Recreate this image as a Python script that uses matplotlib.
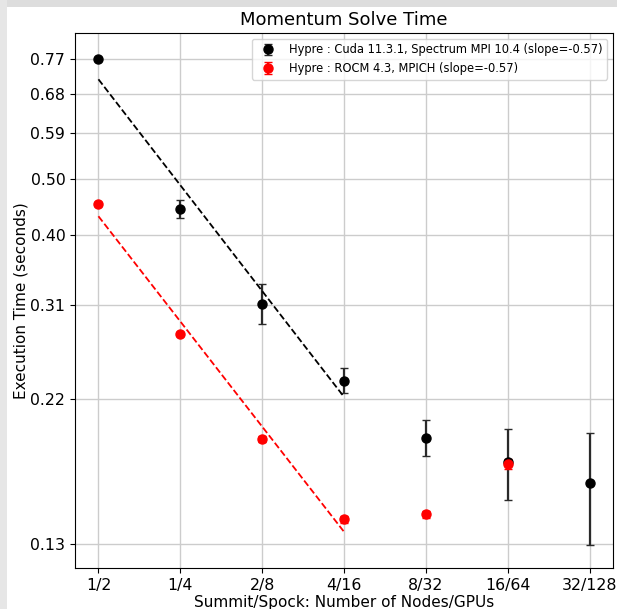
import numpy as np
import matplotlib.pyplot as plt
from matplotlib.patches import Rectangle

# Data
gpus = np.array([2, 4, 8, 16, 32, 64, 128])
tick_labels = ['1/2', '1/4', '2/8', '4/16', '8/32', '16/64', '32/128']

cuda_time = np.array([0.770, 0.4453, 0.315, 0.2379, 0.1931, 0.1765, 0.1636])
cuda_err = np.array([0.0025, 0.0146, 0.023, 0.011, 0.0125, 0.023, 0.033])

rocm_gpus = np.array([2, 4, 8, 16, 32, 64])
rocm_time = np.array([0.454, 0.2819, 0.1922, 0.1432, 0.1458, 0.1753])
rocm_err = np.array([0.003, 0.002, 0.002, 0.002, 0.002, 0.003])

n_fit = 4  # fit over the first 4 points
yticks = np.linspace(0.1307, 0.7705, 8)

fig = plt.figure(figsize=(6.17, 6.09), dpi=100, facecolor='white')
# grey screenshot border on top and left
fig.patches.append(Rectangle((0, 1 - 7/609), 1, 7/609, transform=fig.transFigure,
                             facecolor='#dddddd', edgecolor='none'))
fig.patches.append(Rectangle((0, 0), 7/617, 1, transform=fig.transFigure,
                             facecolor='#e6e6e6', edgecolor='none'))
ax = fig.add_axes([75/617, 41/609, (613-75)/617, (568-33)/609])

ax.errorbar(gpus, cuda_time, yerr=cuda_err, fmt='o', color='black', ecolor='#2a2a2a',
            markersize=6.5, capsize=3, elinewidth=1.6,
            label='Hypre : Cuda 11.3.1, Spectrum MPI 10.4 (slope=-0.57)')
ax.errorbar(rocm_gpus, rocm_time, yerr=rocm_err, fmt='o', color='red', ecolor='red',
            markersize=6.5, capsize=3, elinewidth=1.6,
            label='Hypre : ROCM 4.3, MPICH (slope=-0.57)')

# power law fits in log-log space
for x, y, c in [(gpus, cuda_time, 'black'), (rocm_gpus, rocm_time, 'red')]:
    p = np.polyfit(np.log(x[:n_fit]), np.log(y[:n_fit]), 1)
    xf = x[:n_fit]
    ax.plot(xf, np.exp(np.polyval(p, np.log(xf))), '--', color=c, linewidth=1.3)

ax.set_xscale('log', base=2)
ax.set_yscale('log')
ax.set_xticks(gpus)
ax.set_xticklabels(tick_labels)
ax.set_yticks(yticks)
ax.set_yticklabels(['%.2f' % v for v in yticks])
ax.minorticks_off()
ax.set_xlim(1.64, 156)
ax.set_ylim(0.1199, 0.8473)
ax.tick_params(labelsize=11.3)
ax.grid(True, color='#cccccc', linewidth=1)
ax.set_axisbelow(True)

ax.set_title('Momentum Solve Time', fontsize=13, pad=6)
ax.set_xlabel('Summit/Spock: Number of Nodes/GPUs', fontsize=11, labelpad=2)
ax.set_ylabel('Execution Time (seconds)', fontsize=11, labelpad=1)
ax.legend(loc='upper right', fontsize=8.3)

plt.savefig('out.png', dpi=100)
